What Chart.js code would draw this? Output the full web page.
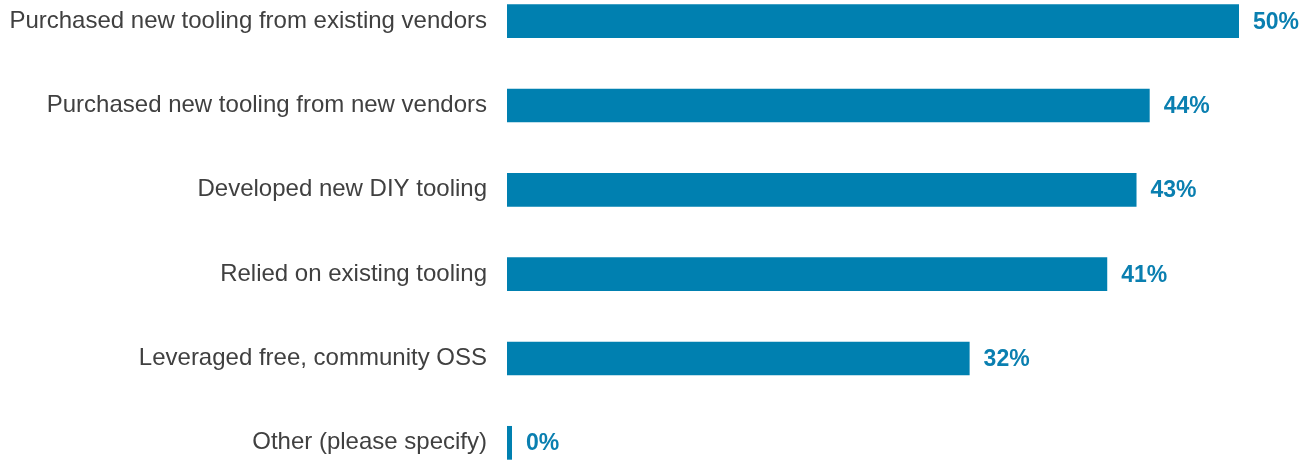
<!DOCTYPE html>
<html>
<head>
<meta charset="utf-8">
<script src="https://cdn.jsdelivr.net/npm/chart.js@4/dist/chart.umd.min.js"></script>
<style>
html,body{margin:0;padding:0;background:#fff;overflow:hidden;width:1309px;height:460px;}
#c{position:absolute;left:0;top:-21px;width:1309px;height:506px;}
</style>
</head>
<body>
<canvas id="c" width="1309" height="506"></canvas>
<script>
const categories = [
  "Purchased new tooling from existing vendors",
  "Purchased new tooling from new vendors",
  "Developed new DIY tooling",
  "Relied on existing tooling",
  "Leveraged free, community OSS",
  "Other (please specify)"
];
const values = [50, 43.9, 43, 41, 31.6, 0];
const valueLabels = ["50%", "44%", "43%", "41%", "32%", "0%"];

const BAR = '#0080B0';
const LABEL = '#0A7FB0';

const valueLabelPlugin = {
  id: 'valueLabels',
  afterDatasetsDraw(chart) {
    const ctx = chart.ctx;
    const meta = chart.getDatasetMeta(0);
    ctx.save();
    ctx.font = 'bold 23px "Liberation Sans", Arial, sans-serif';
    ctx.fillStyle = LABEL;
    ctx.textAlign = 'left';
    ctx.textBaseline = 'middle';
    meta.data.forEach((bar, i) => {
      ctx.fillText(valueLabels[i], bar.x + 14, bar.y + 1);
    });
    ctx.restore();
  }
};

new Chart(document.getElementById('c'), {
  type: 'bar',
  data: {
    labels: categories,
    datasets: [{
      data: values,
      backgroundColor: BAR,
      borderWidth: 0,
      barPercentage: 0.4,
      categoryPercentage: 1.0,
      minBarLength: 5
    }]
  },
  options: {
    indexAxis: 'y',
    responsive: false,
    maintainAspectRatio: false,
    animation: false,
    devicePixelRatio: 1,
    layout: { padding: { left: 0, right: 70, top: 0, bottom: 0 } },
    plugins: { legend: { display: false }, tooltip: { enabled: false } },
    scales: {
      x: { min: 0, max: 50, display: false, grid: { display: false } },
      y: {
        grid: { display: false, drawTicks: false },
        border: { display: false },
        ticks: {
          color: '#404040',
          font: { size: 24, family: '"Liberation Sans", Arial, sans-serif' },
          padding: 20
        },
        afterFit(scale) {
          scale.width = 507;
          scale.paddingTop = 0;
          scale.paddingBottom = 0;
        }
      }
    }
  },
  plugins: [valueLabelPlugin]
});
</script>
</body>
</html>
